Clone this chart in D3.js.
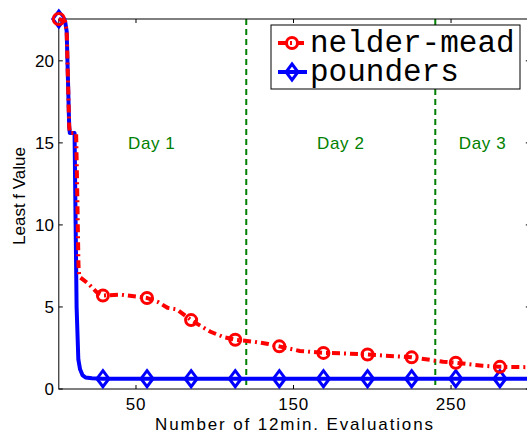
<!DOCTYPE html>
<html lang="en">
<head>
  <meta charset="UTF-8" />
  <title>Least f Value</title>
  <script src="https://d3js.org/d3.v7.min.js"></script>
  <style>
    body { margin: 0; background: #fff; }
    svg { display: block; font-family: "Liberation Sans", Arial, sans-serif; }
    .mono { font-family: "Liberation Mono", "Courier New", monospace; }
  </style>
</head>
<body>
  <div id="chart"></div>

  <script>
    // ---------- DATA ----------
    const neldermeadX = [1, 5, 6, 7.6, 8, 12, 12.7, 13.5, 14, 16, 20, 25, 29, 40, 57, 64, 70, 76, 85, 97, 106, 113, 125, 134, 141, 154, 169, 180, 197, 225, 237, 245, 253, 270, 281, 300];
    const neldermeadY = [22.55, 22.4, 21.8, 16.0, 15.6, 15.6, 12, 7.5, 6.85, 6.7, 6.4, 5.9, 5.7, 5.75, 5.55, 5.3, 4.95, 4.85, 4.2, 3.5, 3.15, 3.0, 2.88, 2.74, 2.6, 2.32, 2.2, 2.18, 2.1, 1.93, 1.77, 1.66, 1.6, 1.42, 1.35, 1.33];
    const poundersX = [1, 5, 6, 7.6, 8, 11, 12.3, 13.4, 14.5, 16, 18, 22, 29, 57, 85, 113, 141, 169, 197, 225, 253, 281, 300];
    const poundersY = [22.55, 22.4, 21.8, 16.0, 15.6, 15.6, 5.0, 1.8, 1.2, 0.85, 0.7, 0.65, 0.63, 0.63, 0.63, 0.63, 0.63, 0.63, 0.63, 0.63, 0.63, 0.63, 0.63];
    const markerX = [1, 29, 57, 85, 113, 141, 169, 197, 225, 253, 281];

    const xTicks = [50, 150, 250];
    const yTicks = [0, 5, 10, 15, 20];
    const dayLines = [120, 240];
    const dayLabels = ["Day 1", "Day 2", "Day 3"];
    const dayLabelX = [60, 180, 270];
    const dayLabelY = 15;

    // ---------- SETUP ----------
    const width = 527, height = 434;
    const svg = d3.select("#chart").append("svg").attr("width", width).attr("height", height);

    const x = d3.scaleLinear().domain([1, 300]).range([58.8, 529.8]);
    const y = d3.scaleLinear().domain([0, 22.55]).range([389, 19]);

    const nm = neldermeadX.map((v, i) => [v, neldermeadY[i]]);
    const pd = poundersX.map((v, i) => [v, poundersY[i]]);
    const lookup = (pts, xv) => pts.find(p => p[0] === xv)[1];

    const line = d3.line().x(d => x(d[0])).y(d => y(d[1]));

    // day separators
    svg.selectAll("line.day")
      .data(dayLines)
      .join("line")
      .attr("x1", d => x(d)).attr("x2", d => x(d))
      .attr("y1", y.range()[1]).attr("y2", y.range()[0])
      .attr("stroke", "#008000")
      .attr("stroke-width", 2)
      .attr("stroke-dasharray", "6,4");

    svg.selectAll("text.day")
      .data(dayLabels)
      .join("text")
      .attr("x", (d, i) => x(dayLabelX[i]))
      .attr("y", y(dayLabelY) + 6)
      .attr("text-anchor", "middle")
      .attr("font-size", 17)
      .attr("letter-spacing", 0.6)
      .attr("fill", "#008000")
      .text(d => d);

    // axes box
    const [x0, x1] = x.range();
    const [yb, yt] = y.range();
    svg.append("rect")
      .attr("x", x0).attr("y", yt)
      .attr("width", x1 - x0).attr("height", yb - yt)
      .attr("fill", "none").attr("stroke", "#000").attr("stroke-width", 1);

    // x ticks (inward, top and bottom)
    xTicks.forEach(t => {
      svg.append("line").attr("x1", x(t)).attr("x2", x(t)).attr("y1", yb).attr("y2", yb - 4).attr("stroke", "#000");
      svg.append("line").attr("x1", x(t)).attr("x2", x(t)).attr("y1", yt).attr("y2", yt + 4).attr("stroke", "#000");
      svg.append("text").attr("x", x(t)).attr("y", 410)
        .attr("text-anchor", "middle").attr("font-size", 17).attr("letter-spacing", 0.8).text(t);
    });

    yTicks.forEach(t => {
      svg.append("line").attr("x1", x0).attr("x2", x0 + 4).attr("y1", y(t)).attr("y2", y(t)).attr("stroke", "#000");
      svg.append("line").attr("x1", x1).attr("x2", x1 - 4).attr("y1", y(t)).attr("y2", y(t)).attr("stroke", "#000");
      svg.append("text").attr("x", 54).attr("y", y(t) + 6)
        .attr("text-anchor", "end").attr("font-size", 17).text(t);
    });

    svg.append("text")
      .attr("x", 294).attr("y", 430)
      .attr("text-anchor", "middle").attr("font-size", 17)
      .attr("textLength", 278).attr("lengthAdjust", "spacing")
      .text("Number of 12min. Evaluations");

    svg.append("text")
      .attr("transform", "translate(25,196) rotate(-90)")
      .attr("text-anchor", "middle").attr("font-size", 17)
      .text("Least f Value");

    // ---------- SERIES ----------
    const diamond = (cx, cy) => `M${cx},${cy - 8}L${cx + 6},${cy}L${cx},${cy + 8}L${cx - 6},${cy}Z`;

    svg.append("path").datum(pd)
      .attr("d", line).attr("fill", "none")
      .attr("stroke", "#0000ff").attr("stroke-width", 4).attr("stroke-linejoin", "round");

    svg.selectAll("path.pmark")
      .data(markerX)
      .join("path")
      .attr("d", d => diamond(x(d), y(lookup(pd, d))))
      .attr("fill", "none").attr("stroke", "#0000ff").attr("stroke-width", 3);

    svg.append("path").datum(nm)
      .attr("d", line).attr("fill", "none")
      .attr("stroke", "#ff0000").attr("stroke-width", 4)
      .attr("stroke-dasharray", "8,4,2,4");

    svg.selectAll("circle.nmark")
      .data(markerX)
      .join("circle")
      .attr("cx", d => x(d)).attr("cy", d => y(lookup(nm, d)))
      .attr("r", 5.5)
      .attr("fill", "none").attr("stroke", "#ff0000").attr("stroke-width", 3);

    // ---------- LEGEND ----------
    const lg = svg.append("g");
    lg.append("rect").attr("x", 271).attr("y", 25).attr("width", 249).attr("height", 64)
      .attr("fill", "#fff").attr("stroke", "#000").attr("stroke-width", 1);

    const entries = [
      { name: "nelder-mead", color: "#ff0000", dash: "8,4,2,4", mark: "circle", cy: 43 },
      { name: "pounders", color: "#0000ff", dash: null, mark: "diamond", cy: 72 }
    ];
    entries.forEach(e => {
      lg.append("line").attr("x1", 278).attr("x2", 307).attr("y1", e.cy).attr("y2", e.cy)
        .attr("stroke", e.color).attr("stroke-width", 4)
        .attr("stroke-dasharray", e.dash);
      if (e.mark === "circle") {
        lg.append("circle").attr("cx", 292).attr("cy", e.cy).attr("r", 5.5)
          .attr("fill", "none").attr("stroke", e.color).attr("stroke-width", 3);
      } else {
        lg.append("path").attr("d", diamond(292, e.cy))
          .attr("fill", "none").attr("stroke", e.color).attr("stroke-width", 3);
      }
      lg.append("text").attr("class", "mono")
        .attr("x", 310).attr("y", e.cy + 9)
        .attr("font-size", 31)
        .text(e.name);
    });
  </script>
</body>
</html>
